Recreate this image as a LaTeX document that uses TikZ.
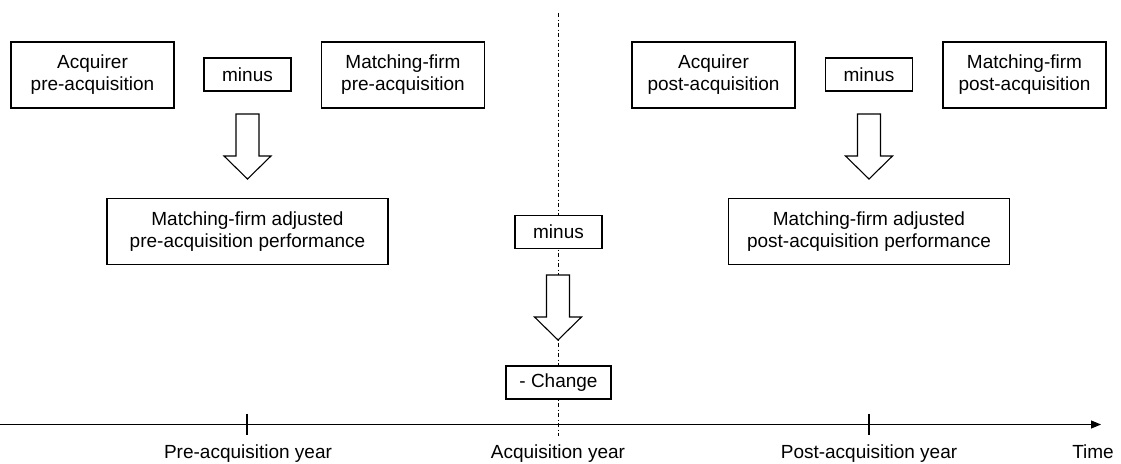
\documentclass[tikz,border=0pt]{standalone}
\usepackage{fontspec}
\setmainfont{Liberation Sans}
\usetikzlibrary{arrows.meta}
\tikzstyle{box}=[rectangle, draw, fill=white, line width=1.1pt, align=center, inner sep=0pt, font=\fontsize{19}{22}\selectfont]
\tikzstyle{firmbox}=[box, minimum width=163pt, minimum height=66pt]
\tikzstyle{minusbox}=[box, minimum width=87pt, minimum height=33pt]
\tikzstyle{resultbox}=[box, minimum width=281pt, minimum height=66pt]
\tikzstyle{blockarrow}=[draw, fill=white, line width=1.1pt, line join=miter]
\tikzstyle{yearlabel}=[anchor=base, inner sep=0pt, font=\fontsize{19}{22}\selectfont]
\newcommand{\downblock}[1]{\draw[blockarrow] (#1) ++(-11.5,0) -- ++(23,0) -- ++(0,42) -- ++(12,0) -- ++(-23.5,23) -- ++(-23.5,-23) -- ++(12,0) -- cycle;}

\begin{document}
\begin{tikzpicture}[x=1pt, y=-1pt]
                    \useasboundingbox (0,0) rectangle (1121,463);
                    \coordinate (vtop) at (558, 13);
                    \coordinate (vbot) at (558, 436);
                    \draw[line width=1pt, dash pattern=on 4pt off 2.5pt on 1pt off 2.5pt] (vtop)--(vbot);
                    \node[firmbox] (acqpre) at (92.5, 75) {Acquirer\\pre-acquisition};
                    \node[minusbox] (minuspre) at (247.5, 74.5) {minus};
                    \node[firmbox] (matchpre) at (403, 75) {Matching-firm\\pre-acquisition};
                    \node[resultbox] (adjpre) at (247.5, 231.5) {Matching-firm adjusted\\pre-acquisition performance};
                    \node[firmbox] (acqpost) at (713.5, 75) {Acquirer\\post-acquisition};
                    \node[minusbox] (minuspost) at (869, 74.5) {minus};
                    \node[firmbox] (matchpost) at (1024.5, 75) {Matching-firm\\post-acquisition};
                    \node[resultbox] (adjpost) at (869, 231.5) {Matching-firm adjusted\\post-acquisition performance};
                    \node[minusbox] (minusmid) at (558.5, 232) {minus};
                    \node[minusbox, minimum width=105pt] (change) at (558.5, 382.5) {- Change};
                    \coordinate (arrpre) at (247.5, 114);
                    \coordinate (arrpost) at (869, 114);
                    \coordinate (arrmid) at (558, 275);
                    \downblock{arrpre}
                    \downblock{arrpost}
                    \downblock{arrmid}
                    \coordinate (axisstart) at (0, 424.5);
                    \coordinate (axisend) at (1101, 424.5);
                    \draw[line width=1.1pt, -{Triangle[length=10pt, width=8pt]}] (axisstart)--(axisend);
                    \coordinate (tickpre) at (247, 424.5);
                    \coordinate (tickpost) at (869, 424.5);
                    \draw[line width=1.1pt] ([yshift=11pt]tickpre)--([yshift=-10pt]tickpre) ([yshift=11pt]tickpost)--([yshift=-10pt]tickpost);
                    \node[yearlabel] (preyear) at (248, 458) {Pre-acquisition year};
                    \node[yearlabel] (acqyear) at (558, 458) {Acquisition year};
                    \node[yearlabel] (postyear) at (869, 458) {Post-acquisition year};
                    \node[yearlabel] (time) at (1093, 458) {Time};
                \end{tikzpicture}
\end{document}
